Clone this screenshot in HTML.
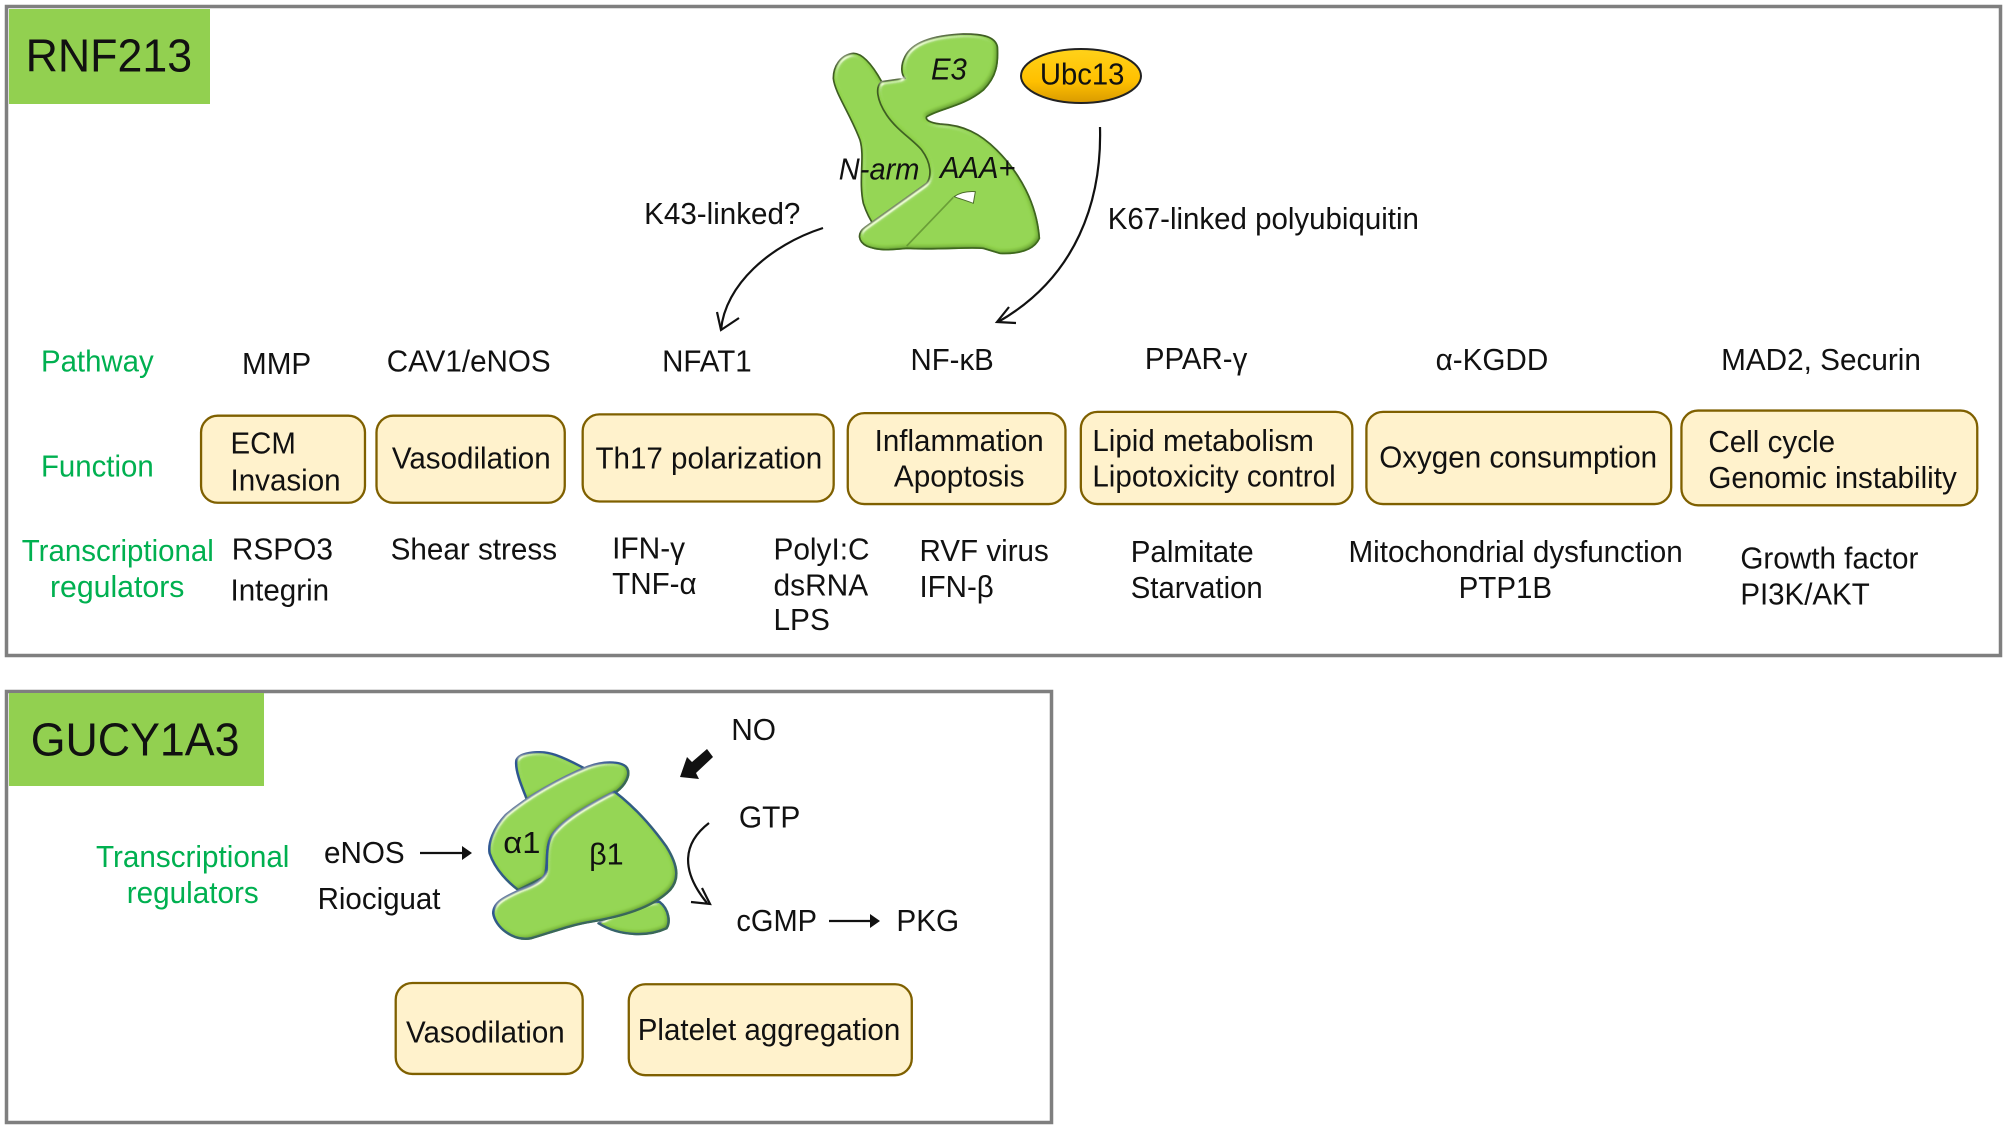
<!DOCTYPE html>
<html><head><meta charset="utf-8"><style>
html,body{margin:0;padding:0;background:#fff}
svg{display:block}
text{font-family:"Liberation Sans",sans-serif;font-size:24px;fill:#111}
.g text{fill:#00b050}
.i{font-style:italic}
</style></head><body>
<svg width="2008" height="1130" viewBox="0 0 2008 1130" xmlns="http://www.w3.org/2000/svg">
<defs>
<filter id="bev" x="-10%" y="-10%" width="120%" height="120%">
<feGaussianBlur in="SourceAlpha" stdDeviation="7" result="b"/>
<feSpecularLighting in="b" surfaceScale="9" specularConstant=".9" specularExponent="32" lighting-color="#f4ffdc" result="s"><feDistantLight azimuth="235" elevation="36"/></feSpecularLighting>
<feComposite in="s" in2="SourceAlpha" operator="in" result="s2"/>
<feOffset in="SourceAlpha" dx="-7" dy="-7" result="o"/>
<feGaussianBlur in="o" stdDeviation="6" result="ob"/>
<feComposite in="SourceAlpha" in2="ob" operator="out" result="edge"/>
<feFlood flood-color="#3f6f1c" flood-opacity=".85"/>
<feComposite in2="edge" operator="in" result="shade"/>
<feMerge><feMergeNode in="SourceGraphic"/><feMergeNode in="shade"/><feMergeNode in="s2"/></feMerge>
</filter>
<linearGradient id="gold" x1="0" y1="0" x2="0" y2="1"><stop offset="0" stop-color="#ffd21a"/><stop offset=".6" stop-color="#ffc000"/><stop offset="1" stop-color="#d99a00"/></linearGradient>
</defs>
<rect x="6.500" y="6.500" width="1994" height="649" fill="none" stroke="#7f7f7f" stroke-width="3.500"/>
<rect x="6.500" y="691.500" width="1045" height="431" fill="none" stroke="#7f7f7f" stroke-width="3.500"/>
<rect x="9" y="9" width="201" height="95" fill="#92d050"/>
<rect x="9" y="693" width="255" height="93" fill="#92d050"/>

<!-- RNF213 protein -->
<g transform="translate(750,0) scale(.33333)" stroke="#3f5a26" stroke-width="5" fill="#93d650" stroke-linejoin="round">
<path filter="url(#bev)" d="M310 160C270 165 250 200 250 235C255 280 300 340 330 420C345 470 325 540 340 610C350 640 360 660 375 680L600 600L560 450L395 245C370 200 340 160 310 160Z"/>
<path filter="url(#bev)" d="M742 140C735 110 700 102 640 102C570 105 490 120 465 170C450 200 455 225 465 235L395 245C375 260 380 300 410 345C440 390 490 420 515 450C545 490 545 530 530 550L345 682C320 700 325 725 350 738C390 755 430 748 470 745C560 750 660 740 700 745L750 760C800 762 850 755 868 715C860 610 810 520 740 450C690 400 640 375 570 372C540 368 525 360 530 350C570 325 640 320 700 270C740 230 745 190 742 140Z"/>
<path d="M612 590C635 598 655 604 670 610L676 575C650 573 630 578 612 590Z" fill="#fff" stroke="#4a6b2a" stroke-width="3"/>
<path d="M470 738L610 592" fill="none" stroke="#5f9030" stroke-width="5" stroke-opacity=".8"/>
</g>
<ellipse cx="1081" cy="76" rx="60" ry="27" fill="url(#gold)" stroke="#222" stroke-width="2"/>

<!-- GUCY protein -->
<g transform="translate(420,700) scale(.35714,.33333)" stroke="#2f5597" stroke-width="7" fill="#93d650" stroke-linejoin="round">
<path filter="url(#bev)" d="M270 180C280 155 340 150 380 165C420 180 450 200 470 210L300 300C285 260 265 210 270 180Z"/>
<path filter="url(#bev)" d="M500 670C560 630 620 610 670 605C700 630 700 670 690 685C640 710 560 710 500 670Z"/>
<path filter="url(#bev)" d="M580 205C570 185 520 180 470 200C390 235 300 290 240 345C205 385 190 430 195 460C210 510 250 550 275 570L350 530C360 480 350 440 370 405C400 360 480 310 550 275C575 255 590 225 580 205Z"/>
<path filter="url(#bev)" d="M545 275C600 320 650 380 690 440C725 500 725 540 700 570C650 625 560 650 480 665C420 675 360 700 310 715C260 725 210 680 205 640C205 605 240 590 280 570C320 555 350 540 355 510C355 470 355 430 370 405C400 360 480 310 545 275Z"/>
</g>

<!-- arrows -->
<g fill="none" stroke="#111" stroke-width="2.200">
<path d="M1100 127C1102 200 1077 277 998 322"/>
<path d="M1009 307L997 322L1016 323"/>
<path d="M823 228C770 245 725 285 721 330"/>
<path d="M739 318L721 330L717 312"/>
<path d="M709 823C683 843 680 870 707 903"/>
<path d="M691 902L710 904L702 888"/>
<path d="M420 853H462M829 921H872"/>
</g>
<path d="M462 846L472 853L462 860ZM870 914L880 921L870 928Z" fill="#111"/>
<path d="M713 757L707 749L692 762L687 757L680 777L699 779L696 773Z" fill="#111"/>

<!-- boxes -->
<g transform="scale(1.28061) translate(0,.6)" fill="#fff2cc" stroke="#7f6000" stroke-width="1.800">
<rect x="157" y="324" width="128" height="68" rx="13"/>
<rect x="294" y="324" width="147" height="68" rx="13"/>
<rect x="455" y="323" width="196" height="68" rx="13"/>
<rect x="662" y="322" width="170" height="71" rx="13"/>
<rect x="844" y="321" width="212" height="72" rx="13"/>
<rect x="1067" y="321" width="238" height="72" rx="13"/>
<rect x="1313" y="320" width="231" height="74" rx="13"/>
<rect x="309" y="767" width="146" height="71" rx="13"/>
<rect x="491" y="768" width="221" height="71" rx="13"/>
</g>

<g transform="scale(1.28061)">
<text x="20" y="56" style="font-size:36px" textLength="130" lengthAdjust="spacingAndGlyphs">RNF213</text>
<text x="24" y="590" style="font-size:36px" textLength="163" lengthAdjust="spacingAndGlyphs">GUCY1A3</text>
<g class="g">
<text x="32" y="290" textLength="88" lengthAdjust="spacingAndGlyphs">Pathway</text>
<text x="32" y="372" textLength="88" lengthAdjust="spacingAndGlyphs">Function</text>
<text x="17" y="438" textLength="150" lengthAdjust="spacingAndGlyphs">Transcriptional</text>
<text x="39" y="466" textLength="105" lengthAdjust="spacingAndGlyphs">regulators</text>
<text x="75" y="677" textLength="151" lengthAdjust="spacingAndGlyphs">Transcriptional</text>
<text x="99" y="705" textLength="103" lengthAdjust="spacingAndGlyphs">regulators</text>
</g>
<text x="189" y="292" textLength="54" lengthAdjust="spacingAndGlyphs">MMP</text>
<text x="302" y="290" textLength="128" lengthAdjust="spacingAndGlyphs">CAV1/eNOS</text>
<text x="517" y="290" textLength="70" lengthAdjust="spacingAndGlyphs">NFAT1</text>
<text x="711" y="289" textLength="65" lengthAdjust="spacingAndGlyphs">NF-κB</text>
<text x="894" y="288" textLength="80" lengthAdjust="spacingAndGlyphs">PPAR-γ</text>
<text x="1121" y="289" textLength="88" lengthAdjust="spacingAndGlyphs">α-KGDD</text>
<text x="1344" y="289" textLength="156" lengthAdjust="spacingAndGlyphs">MAD2, Securin</text>

<text x="180" y="354" textLength="51" lengthAdjust="spacingAndGlyphs">ECM</text>
<text x="180" y="383" textLength="86" lengthAdjust="spacingAndGlyphs">Invasion</text>
<text x="306" y="366" textLength="124" lengthAdjust="spacingAndGlyphs">Vasodilation</text>
<text x="465" y="366" textLength="177" lengthAdjust="spacingAndGlyphs">Th17 polarization</text>
<text x="683" y="352" textLength="132" lengthAdjust="spacingAndGlyphs">Inflammation</text>
<text x="698" y="380" textLength="102" lengthAdjust="spacingAndGlyphs">Apoptosis</text>
<text x="853" y="352" textLength="173" lengthAdjust="spacingAndGlyphs">Lipid metabolism</text>
<text x="853" y="380" textLength="190" lengthAdjust="spacingAndGlyphs">Lipotoxicity control</text>
<text x="1077" y="365" textLength="217" lengthAdjust="spacingAndGlyphs">Oxygen consumption</text>
<text x="1334" y="353" textLength="99" lengthAdjust="spacingAndGlyphs">Cell cycle</text>
<text x="1334" y="381" textLength="194" lengthAdjust="spacingAndGlyphs">Genomic instability</text>

<text x="181" y="437" textLength="79" lengthAdjust="spacingAndGlyphs">RSPO3</text>
<text x="180" y="469" textLength="77" lengthAdjust="spacingAndGlyphs">Integrin</text>
<text x="305" y="437" textLength="130" lengthAdjust="spacingAndGlyphs">Shear stress</text>
<text x="478" y="436" textLength="57" lengthAdjust="spacingAndGlyphs">IFN-γ</text>
<text x="478" y="464" textLength="66" lengthAdjust="spacingAndGlyphs">TNF-α</text>
<text x="604" y="437" textLength="75" lengthAdjust="spacingAndGlyphs">PolyI:C</text>
<text x="604" y="465" textLength="74" lengthAdjust="spacingAndGlyphs">dsRNA</text>
<text x="604" y="492" textLength="44" lengthAdjust="spacingAndGlyphs">LPS</text>
<text x="718" y="438" textLength="101" lengthAdjust="spacingAndGlyphs">RVF virus</text>
<text x="718" y="466" textLength="58" lengthAdjust="spacingAndGlyphs">IFN-β</text>
<text x="883" y="439" textLength="96" lengthAdjust="spacingAndGlyphs">Palmitate</text>
<text x="883" y="467" textLength="103" lengthAdjust="spacingAndGlyphs">Starvation</text>
<text x="1053" y="439" textLength="261" lengthAdjust="spacingAndGlyphs">Mitochondrial dysfunction</text>
<text x="1139" y="467" textLength="73" lengthAdjust="spacingAndGlyphs">PTP1B</text>
<text x="1359" y="444" textLength="139" lengthAdjust="spacingAndGlyphs">Growth factor</text>
<text x="1359" y="472" textLength="101" lengthAdjust="spacingAndGlyphs">PI3K/AKT</text>

<text x="503" y="175" textLength="122" lengthAdjust="spacingAndGlyphs">K43-linked?</text>
<text x="865" y="179" textLength="243" lengthAdjust="spacingAndGlyphs">K67-linked polyubiquitin</text>
<text x="812" y="66" textLength="66" lengthAdjust="spacingAndGlyphs">Ubc13</text>
<text class="i" x="727" y="62" textLength="28" lengthAdjust="spacingAndGlyphs">E3</text>
<text class="i" x="655" y="140" textLength="63" lengthAdjust="spacingAndGlyphs">N-arm</text>
<text class="i" x="734" y="139" textLength="59" lengthAdjust="spacingAndGlyphs">AAA+</text>

<text x="571" y="578" textLength="35" lengthAdjust="spacingAndGlyphs">NO</text>
<text x="577" y="646" textLength="48" lengthAdjust="spacingAndGlyphs">GTP</text>
<text x="575" y="727" textLength="63" lengthAdjust="spacingAndGlyphs">cGMP</text>
<text x="700" y="727" textLength="49" lengthAdjust="spacingAndGlyphs">PKG</text>
<text x="253" y="674" textLength="63" lengthAdjust="spacingAndGlyphs">eNOS</text>
<text x="248" y="710" textLength="96" lengthAdjust="spacingAndGlyphs">Riociguat</text>
<text x="393" y="666" textLength="29" lengthAdjust="spacingAndGlyphs">α1</text>
<text x="460" y="675" textLength="27" lengthAdjust="spacingAndGlyphs">β1</text>
<text x="317" y="814" textLength="124" lengthAdjust="spacingAndGlyphs">Vasodilation</text>
<text x="498" y="812" textLength="205" lengthAdjust="spacingAndGlyphs">Platelet aggregation</text>
</g>
</svg>
</body></html>
